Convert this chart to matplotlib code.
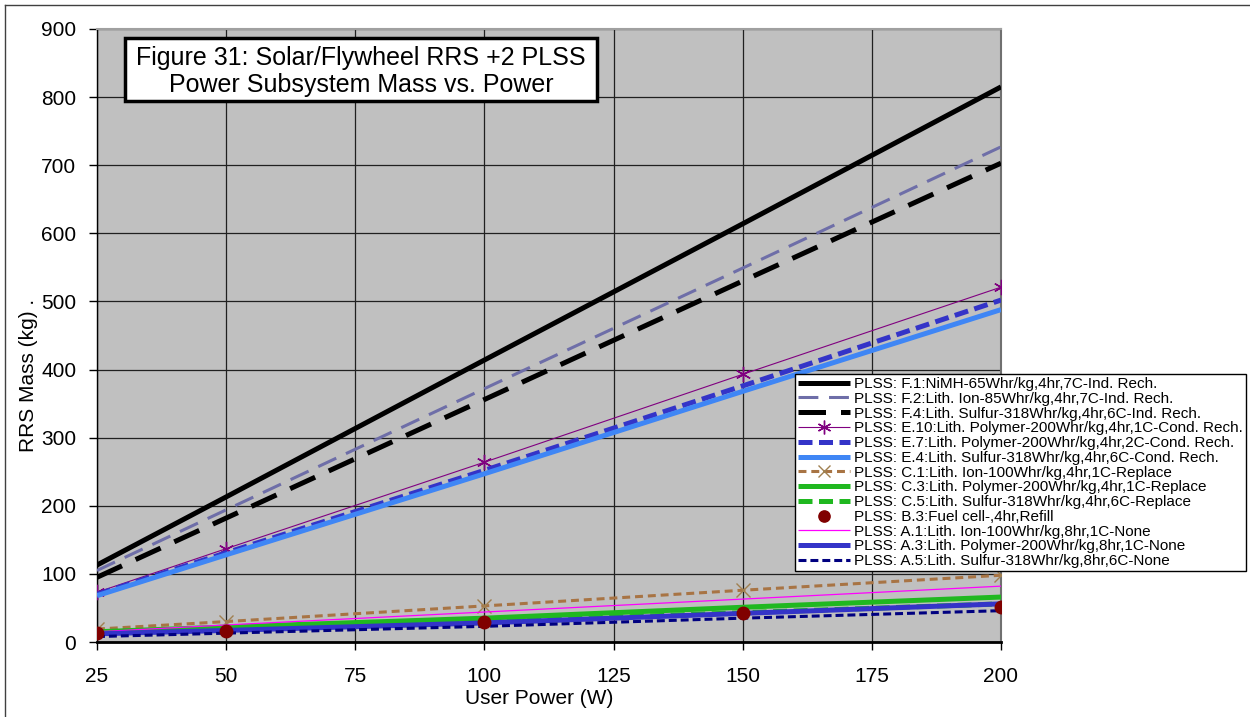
import matplotlib
matplotlib.use("Agg")
import matplotlib.pyplot as plt
from matplotlib.patches import Rectangle
from matplotlib.lines import Line2D

plt.rcParams['font.family'] = ['Liberation Sans', 'DejaVu Sans']

# User power levels (W)
power = [25, 50, 100, 150, 200]

# Power subsystem mass (kg) for each PLSS option
f1_nimh = [113, 213, 414, 614, 815]
f2_li_ion = [105, 194, 372, 549, 727]
f4_li_s = [95, 182, 356, 530, 703]
e10_li_poly = [73, 137, 264, 393, 521]
e7_li_poly = [70, 131, 252, 376, 502]
e4_li_s = [68, 128, 247, 368, 488]
c1_li_ion = [19, 30, 53, 76, 98]
c3_li_poly = [15, 22, 35, 51, 66]
c5_li_s = [13, 19, 30, 43, 56]
b3_fuel_cell = [13, 16, 29, 42, 52]
a1_li_ion = [15, 25, 44, 63, 82]
a3_li_poly = [12, 17, 28, 42, 56]
a5_li_s = [8, 13, 23, 35, 46]

labels = [
    "PLSS: F.1:NiMH-65Whr/kg,4hr,7C-Ind. Rech.",
    "PLSS: F.2:Lith. Ion-85Whr/kg,4hr,7C-Ind. Rech.",
    "PLSS: F.4:Lith. Sulfur-318Whr/kg,4hr,6C-Ind. Rech.",
    "PLSS: E.10:Lith. Polymer-200Whr/kg,4hr,1C-Cond. Rech.",
    "PLSS: E.7:Lith. Polymer-200Whr/kg,4hr,2C-Cond. Rech.",
    "PLSS: E.4:Lith. Sulfur-318Whr/kg,4hr,6C-Cond. Rech.",
    "PLSS: C.1:Lith. Ion-100Whr/kg,4hr,1C-Replace",
    "PLSS: C.3:Lith. Polymer-200Whr/kg,4hr,1C-Replace",
    "PLSS: C.5:Lith. Sulfur-318Whr/kg,4hr,6C-Replace",
    "PLSS: B.3:Fuel cell-,4hr,Refill",
    "PLSS: A.1:Lith. Ion-100Whr/kg,8hr,1C-None",
    "PLSS: A.3:Lith. Polymer-200Whr/kg,8hr,1C-None",
    "PLSS: A.5:Lith. Sulfur-318Whr/kg,8hr,6C-None",
]

x_ticks = [25, 50, 75, 100, 125, 150, 175, 200]
y_ticks = [0, 100, 200, 300, 400, 500, 600, 700, 800, 900]

W, H = 1250, 717
fig = plt.figure(figsize=(W / 100, H / 100), dpi=100)
ax = fig.add_axes([97 / W, 1 - 642 / H, (1001 - 97) / W, (642 - 29) / H])
ax.set_facecolor('#C0C0C0')

star = (6, 2, 0)
series = [
    (f1_nimh, dict(color='black', lw=3.6, ls='-')),
    (f2_li_ion, dict(color='#6E6EA8', lw=2.2, dashes=(6.5, 3.5))),
    (f4_li_s, dict(color='black', lw=3.6, dashes=(5.5, 3.0))),
    (e10_li_poly, dict(color='#800080', lw=0.8, marker=star, ms=11, mew=1.0)),
    (e7_li_poly, dict(color='#3434C8', lw=3.6, dashes=(2.8, 1.3))),
    (e4_li_s, dict(color='#3F86F5', lw=3.6, ls='-')),
    (c1_li_ion, dict(color='#A87444', lw=2.2, dashes=(2.6, 1.6), marker='x', ms=10, mew=1.0, mec='#A08050')),
    (c3_li_poly, dict(color='#20B820', lw=3.6, ls='-')),
    (c5_li_s, dict(color='#20B820', lw=3.6, dashes=(2.8, 1.3))),
    (b3_fuel_cell, dict(color='#800000', lw=0, ls='none', marker='o', ms=9, zorder=6)),
    (a1_li_ion, dict(color='#FF00FF', lw=0.9, ls='-')),
    (a3_li_poly, dict(color='#3434C8', lw=3.6, ls='-')),
    (a5_li_s, dict(color='#000080', lw=2.2, dashes=(2.6, 1.3))),
]

handles = []
for (vals, style), lab in zip(series, labels):
    style = dict(style)
    z = style.pop('zorder', 3)
    ln, = ax.plot(power, vals, label=lab, zorder=z, solid_capstyle='butt',
                  dash_capstyle='butt', **style)
    handles.append(ln)

ax.set_xlim(25, 200)
ax.set_ylim(0, 900)
ax.set_xticks(x_ticks)
ax.set_yticks(y_ticks)
ax.grid(True, color='#202020', lw=0.9)
ax.set_axisbelow(True)
ax.tick_params(axis='both', direction='out', length=6, width=1, labelsize=15,
               colors='black')
ax.tick_params(axis='y', pad=9)
ax.tick_params(axis='x', pad=12)

for side in ('left', 'bottom'):
    ax.spines[side].set_color('black')
ax.spines['bottom'].set_linewidth(2)
ax.spines['left'].set_linewidth(1)
ax.spines['top'].set_color('#A0A0A0')
ax.spines['top'].set_linewidth(1.5)
ax.spines['right'].set_color('#707070')
ax.spines['right'].set_linewidth(1.5)

ax.set_xlabel("User Power (W)", fontsize=15)
ax.xaxis.set_label_coords((539 - 97) / 904, (642 - 689) / 613)
ax.set_ylabel("RRS Mass (kg) .", fontsize=15)
ax.yaxis.set_label_coords((38 - 97) / 904, (642 - 375) / 613)

# Title box
bx0, bx1, by0, by1 = 125, 597, 38, 101
fig.patches.append(Rectangle((bx0 / W, 1 - by1 / H), (bx1 - bx0) / W, (by1 - by0) / H,
                             transform=fig.transFigure, facecolor='white',
                             edgecolor='black', lw=2.5, zorder=5))
fig.text((bx0 + bx1) / 2 / W, 1 - (by0 + by1 + 4) / 2 / H,
         "Figure 31: Solar/Flywheel RRS +2 PLSS\nPower Subsystem Mass vs. Power",
         ha='center', va='center', fontsize=18, linespacing=1.15, zorder=6)

leg = fig.legend(handles=handles, loc='upper left', bbox_to_anchor=(795 / W, 1 - 374 / H),
                 bbox_transform=fig.transFigure, fontsize=11, frameon=True,
                 fancybox=False, edgecolor='black', framealpha=1, borderaxespad=0,
                 borderpad=0.2, labelspacing=0.05, handlelength=3.4,
                 handletextpad=0.25, markerscale=0.9)
leg.get_frame().set_linewidth(1.0)
leg.set_zorder(10)

# Chart area border
fig.add_artist(Line2D([5 / W, 5 / W], [0, 1 - 5 / H], color='#404040', lw=1,
                      transform=fig.transFigure))
fig.add_artist(Line2D([5 / W, 1], [1 - 5 / H, 1 - 5 / H], color='#404040', lw=1,
                      transform=fig.transFigure))

fig.savefig("out.png", dpi=100, facecolor='white')
